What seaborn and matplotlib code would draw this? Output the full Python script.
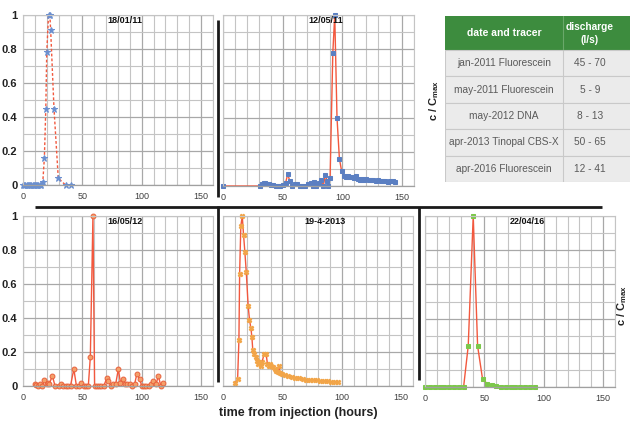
import matplotlib
matplotlib.use("Agg")
import matplotlib.pyplot as plt
import seaborn as sns
import numpy as np
from matplotlib.patches import Rectangle
from matplotlib.lines import Line2D

W, H = 630, 421

# ---------------- data ----------------
jan11_t = [0, 1, 2, 3, 4, 5, 6, 7, 8, 9, 10, 11, 12, 13, 14, 15, 16.7, 18, 19.2, 20,
           21.5, 22.6, 23.3, 26.1, 29.7, 35.8, 40]
jan11_c = [0, 0, 0, 0, 0, 0, 0, 0, 0, 0, 0, 0, 0, 0, 0, 0, 0.02, 0.16, 0.45, 0.78,
           1.0, 1.0, 0.91, 0.45, 0.04, 0.0, 0.0]

may11_t = [0, 31.3, 32.5, 34, 35.5, 37, 38.5, 40, 42, 44, 46, 48, 50, 52.5, 54.2, 55.9,
           57.5, 60, 62, 64.5, 66.5, 69, 71, 73.5, 75, 76.5, 78, 80, 82, 84, 85.8, 87.2,
           88.3, 89.7, 92, 93.6, 95.5, 97.5, 99.4, 101, 103, 104.5, 106, 108, 110, 111.5,
           113, 115, 116.5, 118, 120, 122, 124, 126, 128, 130, 132, 134, 136, 138, 140,
           142, 144.4]
may11_c = [0, 0, 0.01, 0.02, 0.02, 0.01, 0.01, 0.005, 0.005, 0.0, 0.0, 0.0, 0.005, 0.02,
           0.07, 0.03, 0.0, 0.01, 0.01, 0.0, 0.0, 0.0, 0.01, 0.015, 0.0, 0.023, 0.0, 0.015,
           0.033, 0.0, 0.066, 0.03, 0.0, 0.047, 0.78, 1.0, 0.4, 0.16, 0.086, 0.06, 0.053,
           0.06, 0.05, 0.053, 0.045, 0.06, 0.043, 0.035, 0.04, 0.035, 0.04, 0.035, 0.038,
           0.035, 0.03, 0.035, 0.03, 0.03, 0.028, 0.025, 0.03, 0.028, 0.023]

may12_t = [9.7, 11, 13, 14.4, 16.4, 18, 20, 20.8, 22, 24.7, 27, 30, 32, 34, 36, 38, 40,
           42.8, 45, 47, 48.6, 51, 53, 55, 56.7, 58.9, 60.3, 62, 64, 66, 68, 70.5, 72, 74,
           76, 78, 80.3, 82, 84, 86, 88, 90, 92, 94, 95.8, 98.3, 100, 102, 104, 106, 108,
           109.4, 112, 114, 116, 117.8]
may12_c = [0.01, 0.005, 0.0, 0.01, 0.0, 0.035, 0.01, 0.02, 0.01, 0.06, 0.0, 0.0, 0.01,
           0.0, 0.0, 0.0, 0.0, 0.1, 0.0, 0.0, 0.02, 0.0, 0.0, 0.0, 0.17, 1.0, 0.0, 0.0, 0.0,
           0.0, 0.0, 0.045, 0.03, 0.0, 0.01, 0.01, 0.1, 0.02, 0.04, 0.01, 0.01, 0.01, 0.0,
           0.01, 0.07, 0.04, 0.0, 0.0, 0.0, 0.0, 0.01, 0.03, 0.01, 0.06, 0.0, 0.02]

apr13_t = [10, 12.3, 13.4, 14, 15, 16.2, 17.3, 18.4, 19.6, 21.2, 22.3, 23.5, 24.3, 25.1,
           26.3, 27.4, 28.5, 29.6, 30.7, 31.8, 32.9, 34.6, 36.3, 37.4, 38.5, 39.7, 40.8,
           41.9, 43.6, 44.7, 46.1, 46.9, 48, 49.7, 52, 55, 58, 61, 64, 67, 70, 73, 76, 79,
           82, 85, 88, 91, 94, 97]
apr13_c = [0.015, 0.04, 0.27, 0.66, 0.94, 1.0, 0.89, 0.79, 0.67, 0.47, 0.39, 0.34, 0.29,
           0.21, 0.19, 0.17, 0.15, 0.13, 0.14, 0.12, 0.14, 0.19, 0.19, 0.13, 0.12, 0.13,
           0.12, 0.11, 0.1, 0.09, 0.085, 0.12, 0.075, 0.07, 0.065, 0.06, 0.055, 0.05,
           0.045, 0.04, 0.037, 0.035, 0.035, 0.033, 0.03, 0.03, 0.028, 0.025, 0.025, 0.022]

apr16_t = [0, 4.2, 8.4, 12.6, 16.2, 20.4, 24.6, 28.6, 32.5, 36.4, 40.6, 44.3, 48.5, 52.4,
           56.3, 60.2, 64.4, 68.3, 72.3, 76.2, 80.1, 84, 88.2, 92.4]
apr16_c = [0, 0, 0, 0, 0, 0, 0, 0, 0, 0.24, 1.0, 0.24, 0.045, 0.02, 0.01, 0.005, 0, 0, 0,
           0, 0, 0, 0, 0]

panel_titles = ["18/01/11", "12/05/11", "16/05/12", "19-4-2013", "22/04/16"]

table_header = ["date and tracer", "discharge\n(l/s)"]
table_tracer = ["jan-2011 Fluorescein", "may-2011 Fluorescein", "may-2012 DNA",
                "apr-2013 Tinopal CBS-X", "apr-2016 Fluorescein"]
table_discharge = ["45 - 70", "5 - 9", "8 - 13", "50 - 65", "12 - 41"]

ytick_vals = [0, 0.2, 0.4, 0.6, 0.8, 1.0]
ytick_labels = ["0", "0.2", "0.4", "0.6", "0.8", "1"]
xtick_vals = [0, 50, 100, 150]
xtick_labels = ["0", "50", "100", "150"]

# ---------------- style ----------------
sns.set_style("white")
plt.rcParams['font.family'] = ['Liberation Sans', 'DejaVu Sans']
plt.rcParams['mathtext.fontset'] = 'custom'
plt.rcParams['mathtext.bf'] = 'Liberation Sans:bold'
plt.rcParams['mathtext.rm'] = 'Liberation Sans'

RED = "#f2583e"
fig = plt.figure(figsize=(6.3, 4.21), dpi=100)


def px_axes(l, t, r, b):
    return fig.add_axes([l / W, 1 - b / H, (r - l) / W, (b - t) / H])


def style(ax, show_y, title):
    ax.set_xlim(0, 160)
    ax.set_ylim(0, 1)
    ax.set_xticks(xtick_vals)
    ax.set_xticklabels(xtick_labels, fontsize=6.5, color="#404040")
    ax.set_xticks(np.arange(0, 161, 10), minor=True)
    ax.set_yticks(ytick_vals)
    ax.set_yticks(np.arange(0, 1.01, 0.1), minor=True)
    if show_y:
        ax.set_yticklabels(ytick_labels, fontsize=8, fontweight="bold", color="#222222")
    else:
        ax.set_yticklabels([])
    ax.grid(which="major", color="#a8a8a8", lw=0.9)
    ax.grid(which="minor", color="#c4c4c4", lw=0.8)
    ax.set_axisbelow(True)
    ax.tick_params(which="both", length=0)
    ax.tick_params(axis="x", pad=5)
    ax.tick_params(axis="y", pad=4)
    for s in ["top", "right", "left"]:
        ax.spines[s].set_color("#c4c4c4")
        ax.spines[s].set_linewidth(0.8)
    ax.spines["bottom"].set_color("#a0a0a0")
    ax.spines["bottom"].set_linewidth(0.9)
    ax.set_xlabel("")
    ax.set_ylabel("")
    ax.text(86, 0.965, title, ha="center", va="center", fontsize=6.5,
            fontweight="bold", color="#111111")


# Panel 1
ax1 = px_axes(23, 15, 213, 185)
sns.lineplot(x=jan11_t, y=jan11_c, ax=ax1, color=RED, lw=1.0, linestyle=(0, (2, 1.5)),
             marker="*", markersize=4.5, markerfacecolor="#6a8fd0",
             markeredgecolor="#6a8fd0", clip_on=False)
style(ax1, True, panel_titles[0])

# Panel 2
ax2 = px_axes(223, 15, 414, 186)
sns.lineplot(x=may11_t, y=may11_c, ax=ax2, color=RED, lw=1.0,
             marker="s", markersize=3, markerfacecolor="#5b7fc2",
             markeredgecolor="#5b7fc2", clip_on=False)
style(ax2, False, panel_titles[1])

# Panel 3
ax3 = px_axes(23, 216, 213, 386)
sns.lineplot(x=may12_t, y=may12_c, ax=ax3, color=RED, lw=1.0,
             marker="o", markersize=3.5, markerfacecolor="#f4a06a",
             markeredgecolor="#e8603c", markeredgewidth=0.7, clip_on=False)
style(ax3, True, panel_titles[2])

# Panel 4
ax4 = px_axes(223, 216, 413, 386)
sns.lineplot(x=apr13_t, y=apr13_c, ax=ax4, color=RED, lw=1.0,
             marker="X", markersize=3.3, markerfacecolor="#f2a548",
             markeredgecolor="#f2a548", clip_on=False)
style(ax4, False, panel_titles[3])

# Panel 5
ax5 = px_axes(425, 216, 615, 387)
sns.lineplot(x=apr16_t, y=apr16_c, ax=ax5, color=RED, lw=1.0,
             marker="s", markersize=3, markerfacecolor="#7cc84a",
             markeredgecolor="#7cc84a", clip_on=False)
style(ax5, False, panel_titles[4])

# ---------------- black separator lines ----------------
def fig_line(x0, y0, x1, y1):
    fig.add_artist(Line2D([x0 / W, x1 / W], [1 - y0 / H, 1 - y1 / H],
                          color="#1a1a1a", lw=2, solid_capstyle="butt"))

fig_line(218, 20, 218, 197)
fig_line(35, 207, 602, 207)
fig_line(218, 206, 218, 382)
fig_line(419, 207, 419, 380)

# ---------------- table ----------------
axt = px_axes(445, 16, 632, 182)
axt.set_xlim(0, 187)
axt.set_ylim(166, 0)
axt.axis("off")
hdr_h = 34
row_h = (166 - hdr_h) / 5
col_x = 118
col2_c = 145
axt.add_patch(Rectangle((0, 0), 187, hdr_h, facecolor="#3d8c3e", edgecolor="none"))
axt.plot([col_x, col_x], [0, hdr_h], color="#6aa86a", lw=0.8)
axt.text(col_x / 2, hdr_h / 2, table_header[0], ha="center", va="center",
         color="white", fontsize=7.5, fontweight="bold")
axt.text(col2_c, hdr_h / 2 + 0.5, table_header[1], ha="center", va="center",
         color="white", fontsize=7.3, fontweight="bold", linespacing=1.3)
for i, (tr, dq) in enumerate(zip(table_tracer, table_discharge)):
    y0 = hdr_h + i * row_h
    axt.add_patch(Rectangle((0, y0), 187, row_h, facecolor="#ebebeb",
                            edgecolor="#c9c9c9", lw=0.8))
    axt.plot([col_x, col_x], [y0, y0 + row_h], color="#c9c9c9", lw=0.8)
    axt.text(col_x / 2, y0 + row_h / 2, tr, ha="center", va="center",
             color="#5a5a5a", fontsize=7.3)
    axt.text(col2_c, y0 + row_h / 2, dq, ha="center", va="center",
             color="#5a5a5a", fontsize=7.3)

# ---------------- labels ----------------
fig.text(434 / W, 1 - 100 / H, r"c / C$_\mathbf{max}$", rotation=90, ha="center",
         va="center", fontsize=8, fontweight="bold", color="#222222")
fig.text(622 / W, 1 - 305 / H, r"c / C$_\mathbf{max}$", rotation=90, ha="center",
         va="center", fontsize=8, fontweight="bold", color="#222222")
fig.text(298 / W, 1 - 413 / H, "time from injection (hours)", ha="center", va="center",
         fontsize=9, fontweight="bold", color="#222222")

fig.savefig("out.png", dpi=100)
